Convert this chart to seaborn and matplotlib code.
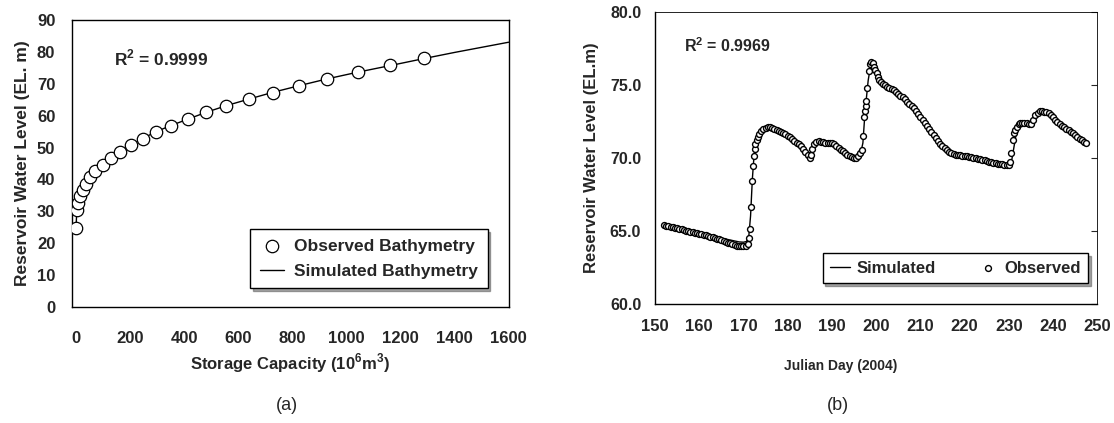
import numpy as np
import pandas as pd
import matplotlib
matplotlib.use("Agg")
import matplotlib.pyplot as plt
import seaborn as sns
from matplotlib.ticker import FormatStrFormatter, MultipleLocator

# ---------------- data: panel (a) ----------------
obs_capacity = [0, 3, 6, 13, 24, 37, 51, 72, 100, 129, 163, 202, 246, 294, 351,
                414, 480, 555, 640, 728, 826, 928, 1041, 1163, 1288]
obs_elev = [24.7, 30.5, 32.7, 34.7, 36.7, 38.7, 40.7, 42.6, 44.6, 46.7, 48.6, 50.7,
            52.8, 55.0, 56.9, 58.9, 61.0, 63.1, 65.2, 67.2, 69.3, 71.6, 73.6, 75.8, 77.9]
sim_capacity = [0, 3, 6, 13, 24, 37, 51, 72, 100, 129, 163, 202, 246, 294, 351,
                414, 480, 555, 640, 728, 826, 928, 1041, 1163, 1288, 1400, 1500, 1600]
sim_elev = [24.7, 30.6, 32.8, 34.8, 36.8, 38.7, 40.6, 42.6, 44.6, 46.6, 48.6, 50.7,
            52.8, 54.9, 56.9, 58.9, 61.0, 63.1, 65.2, 67.3, 69.4, 71.5, 73.6, 75.7, 77.9,
            79.8, 81.4, 83.0]

# ---------------- data: panel (b) ----------------
obs_day = [152.0, 152.5, 153, 153.5, 154, 154.5, 155, 155.5, 156, 156.5, 157, 157.5,
           158, 158.5, 159, 159.5, 160, 160.5, 161, 161.5, 162, 162.5, 163, 163.5,
           164, 164.5, 165, 165.5, 166, 166.5, 167, 167.5, 168, 168.5, 169, 169.5,
           170, 170.5, 171, 171.3, 171.5, 171.7, 171.9, 172.1, 172.3, 172.5, 172.7,
           173, 173.3, 173.6, 174, 174.5, 175, 175.5, 176, 176.5, 177, 177.5, 178,
           178.5, 179, 179.5, 180, 180.5, 181, 181.5, 182, 182.5, 183, 183.5, 184,
           184.5, 185, 185.3, 185.6, 186, 186.5, 187, 187.5, 188, 188.5, 189, 189.5,
           190, 190.5, 191, 191.5, 192, 192.5, 193, 193.5, 194, 194.5, 195, 195.5,
           196, 196.4, 196.7, 197.0, 197.2, 197.4, 197.6, 197.8, 198.0, 198.3, 198.6,
           198.9, 199.2, 199.5, 199.8, 200.1, 200.4, 200.7, 201, 201.5, 202, 202.5,
           203, 203.5, 204, 204.5, 205, 205.5, 206, 206.5, 207, 207.5, 208, 208.5,
           209, 209.5, 210, 210.5, 211, 211.5, 212, 212.5, 213, 213.5, 214, 214.5,
           215, 215.5, 216, 216.5, 217, 217.5, 218, 218.5, 219, 219.5, 220, 220.5,
           221, 221.5, 222, 222.5, 223, 223.5, 224, 224.5, 225, 225.5, 226, 226.5,
           227, 227.5, 228, 228.5, 229, 229.5, 230, 230.3, 230.6, 230.9, 231.2, 231.5,
           231.8, 232.2, 232.6, 233, 233.5, 234, 234.5, 235, 235.5, 236, 236.5, 237,
           237.5, 238, 238.5, 239, 239.5, 240, 240.5, 241, 241.5, 242, 242.5, 243,
           243.5, 244, 244.5, 245, 245.5, 246, 246.5, 247, 247.5]
obs_level = [65.35, 65.32, 65.28, 65.25, 65.22, 65.18, 65.15, 65.11, 65.08, 65.04, 65.0,
             64.97, 64.93, 64.9, 64.86, 64.82, 64.78, 64.74, 64.7, 64.66, 64.62, 64.58,
             64.54, 64.5, 64.45, 64.4, 64.35, 64.3, 64.24, 64.18, 64.12, 64.06, 64.0,
             63.96, 63.93, 63.92, 63.93, 63.96, 64.1, 64.5, 65.1, 66.6, 68.4, 69.4, 70.1,
             70.6, 70.9, 71.2, 71.4, 71.6, 71.8, 71.95, 72.05, 72.08, 72.07, 72.03, 71.98,
             71.92, 71.85, 71.77, 71.7, 71.6, 71.5, 71.4, 71.28, 71.16, 71.03, 70.9, 70.76,
             70.6, 70.4, 70.15, 70.0, 70.2, 70.6, 70.9, 71.08, 71.12, 71.1, 71.05, 71.02,
             71.0, 71.0, 70.97, 70.9, 70.8, 70.68, 70.55, 70.42, 70.3, 70.2, 70.1, 70.02,
             69.96, 69.95, 70.1, 70.3, 70.5, 71.5, 72.8, 73.2, 73.5, 73.9, 74.8, 75.9,
             76.4, 76.55, 76.45, 76.2, 76.0, 75.8, 75.55, 75.3, 75.15, 75.05, 74.95, 74.85,
             74.77, 74.68, 74.6, 74.48, 74.37, 74.25, 74.12, 73.98, 73.84, 73.7, 73.53,
             73.37, 73.2, 73.0, 72.8, 72.6, 72.38, 72.17, 71.96, 71.75, 71.54, 71.35,
             71.15, 70.96, 70.8, 70.64, 70.5, 70.38, 70.28, 70.22, 70.2, 70.2, 70.17,
             70.14, 70.11, 70.08, 70.05, 70.01, 69.98, 69.95, 69.91, 69.88, 69.84, 69.8,
             69.77, 69.73, 69.69, 69.66, 69.62, 69.59, 69.56, 69.53, 69.5, 69.48, 69.5,
             69.7, 70.3, 71.2, 71.65, 71.9, 72.1, 72.3, 72.38, 72.4, 72.4, 72.38, 72.3,
             72.3, 72.55, 72.9, 73.08, 73.17, 73.19, 73.15, 73.1, 73.03, 72.92, 72.75,
             72.58, 72.42, 72.28, 72.17, 72.07, 71.98, 71.88, 71.78, 71.66, 71.53, 71.4,
             71.28, 71.18, 71.08, 71.0]
sim_day = [152, 156, 160, 164, 167, 169, 170, 170.7, 171.2, 171.6, 172, 172.4, 173, 174,
           175, 176, 178, 180, 182, 184, 185, 185.6, 186.3, 187, 189, 190, 192, 194,
           195.5, 196.5, 197, 197.5, 198.2, 198.8, 199.2, 199.8, 200.5, 201, 203, 205,
           207, 209, 211, 213, 215, 217, 218.5, 222, 226, 229, 230, 230.7, 231.2, 231.7,
           232.3, 233, 234, 235, 235.7, 236.5, 237.5, 239, 240, 242, 244, 246, 247.7]
sim_level = [65.4, 65.15, 64.85, 64.55, 64.35, 64.22, 64.2, 64.25, 64.6, 66.0, 68.5, 70.2,
             71.2, 71.8, 72.05, 72.05, 71.85, 71.5, 71.05, 70.45, 70.05, 70.5, 71.0, 71.15,
             71.05, 70.97, 70.55, 70.12, 69.98, 70.3, 71.0, 73.2, 75.3, 76.4, 76.45, 76.0,
             75.4, 75.15, 74.8, 74.4, 73.85, 73.2, 72.4, 71.55, 70.8, 70.3, 70.2, 69.98,
             69.7, 69.52, 69.55, 69.9, 70.8, 71.7, 72.2, 72.3, 72.25, 72.15, 72.5, 72.9,
             73.05, 72.95, 72.7, 72.15, 71.75, 71.28, 71.0]

# ---------------- style ----------------
sns.set_style("white")
plt.rcParams["font.family"] = ["Liberation Sans", "DejaVu Sans"]
plt.rcParams["mathtext.fontset"] = "custom"
plt.rcParams["mathtext.rm"] = "Liberation Sans"
plt.rcParams["mathtext.bf"] = "Liberation Sans:bold"
NARROW = ["Liberation Sans Narrow", "Liberation Sans"]

fig = plt.figure(figsize=(11.14, 4.23), dpi=100)
ax1 = fig.add_axes([0.0646, 0.274, 0.392, 0.679])
ax2 = fig.add_axes([0.588, 0.2825, 0.397, 0.690])

df_a_obs = pd.DataFrame({"cap": obs_capacity, "elev": obs_elev})
df_a_sim = pd.DataFrame({"cap": sim_capacity, "elev": sim_elev})
df_b_obs = pd.DataFrame({"day": obs_day, "level": obs_level})
df_b_sim = pd.DataFrame({"day": sim_day, "level": sim_level})

# ---- panel (a)
sns.lineplot(data=df_a_sim, x="cap", y="elev", ax=ax1, color="black", lw=1.0,
             label="Simulated Bathymetry", zorder=2, sort=False)
sns.scatterplot(data=df_a_obs, x="cap", y="elev", ax=ax1, s=80, facecolor="white",
                edgecolor="black", linewidth=0.9, label="Observed Bathymetry", zorder=3)
ax1.set_xlim(-15, 1600)
ax1.set_ylim(0, 90)
ax1.xaxis.set_major_locator(MultipleLocator(200))
ax1.yaxis.set_major_locator(MultipleLocator(10))
for s in ax1.spines.values():
    s.set_color("black"); s.set_linewidth(1.0)
ax1.tick_params(axis="x", direction="out", length=4, width=1, pad=13, labelsize=12)
ax1.tick_params(axis="y", direction="out", length=4, width=1, pad=8, labelsize=12)
for lab in ax1.get_xticklabels() + ax1.get_yticklabels():
    lab.set_fontweight("bold")
ax1.set_xlabel("Storage Capacity (10$^{\\mathbf{6}}$m$^{\\mathbf{3}}$)", fontsize=12,
               fontweight="bold", labelpad=4)
ax1.set_ylabel("Reservoir Water Level (EL. m)", fontsize=12.5, fontweight="bold", labelpad=5)
ax1.text(140, 78, "R$^{\\mathbf{2}}$ = 0.9999", fontsize=12.5, fontweight="bold",
         va="center", ha="left")
h, l = ax1.get_legend_handles_labels()
order = [l.index("Observed Bathymetry"), l.index("Simulated Bathymetry")]
leg1 = ax1.legend([h[i] for i in order], [l[i] for i in order], loc="lower right",
                  bbox_to_anchor=(0.952, 0.066), borderaxespad=0, frameon=True,
                  fancybox=False, shadow=True,
                  prop={"weight": "bold", "size": 12.5}, handlelength=1.4, borderpad=0.55,
                  labelspacing=0.55, handletextpad=0.6)
leg1.get_frame().set_edgecolor("black")
leg1.get_frame().set_linewidth(1.0)

# ---- panel (b)
sns.lineplot(data=df_b_sim, x="day", y="level", ax=ax2, color="black", lw=1.0,
             label="Simulated", zorder=2, sort=False)
sns.scatterplot(data=df_b_obs, x="day", y="level", ax=ax2, s=18, facecolor="white",
                edgecolor="black", linewidth=1.0, label="Observed", zorder=3)
ax2.set_xlim(150, 250)
ax2.set_ylim(60, 80)
ax2.xaxis.set_major_locator(MultipleLocator(10))
ax2.yaxis.set_major_locator(MultipleLocator(5))
ax2.yaxis.set_major_formatter(FormatStrFormatter("%.1f"))
for s in ax2.spines.values():
    s.set_color("black"); s.set_linewidth(1.0)
ax2.spines["top"].set_linewidth(0.6)
ax2.spines["right"].set_linewidth(0.6)
ax2.tick_params(axis="x", direction="in", length=4, width=0.8, pad=11, labelsize=12)
ax2.tick_params(axis="y", direction="in", length=4, width=0.8, pad=10, labelsize=11.5,
                right=True)
for lab in ax2.get_xticklabels():
    lab.set_fontweight("bold")
    lab.set_fontfamily(NARROW)
for lab in ax2.get_yticklabels():
    lab.set_fontweight("bold")
ax2.set_xlabel("Julian Day (2004)", fontsize=10, fontweight="bold", fontfamily=NARROW)
ax2.xaxis.set_label_coords(0.42, -0.19)
ax2.set_ylabel("Reservoir Water Level (EL.m)", fontsize=12, fontweight="bold", labelpad=8)
ax2.text(156.5, 77.7, "R$^{\\mathbf{2}}$ = 0.9969", fontsize=11.5, fontweight="bold",
         va="center", ha="left")
leg2 = ax2.legend(loc="lower right", bbox_to_anchor=(0.98, 0.07), borderaxespad=0, ncol=2,
                  frameon=True, fancybox=False, shadow=True,
                  prop={"weight": "bold", "size": 12},
                  handlelength=1.2, columnspacing=2.5, borderpad=0.45, handletextpad=0.4)
leg2.get_frame().set_edgecolor("black")
leg2.get_frame().set_linewidth(1.0)

fig.text(287 / 1114, 1 - 405 / 423, "(a)", fontsize=13, ha="center", va="center")
fig.text(838 / 1114, 1 - 405 / 423, "(b)", fontsize=13, ha="center", va="center")

fig.savefig("out.png", dpi=100)
